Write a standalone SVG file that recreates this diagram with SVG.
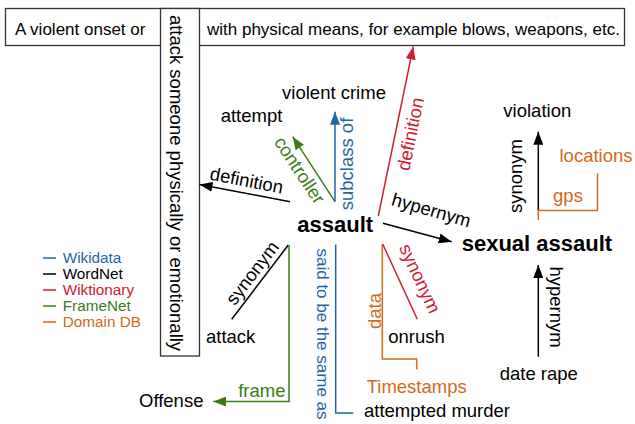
<svg xmlns="http://www.w3.org/2000/svg" width="635" height="424" viewBox="0 0 635 424">
<style>
text{font-family:"Liberation Sans",Arial,Helvetica,sans-serif;fill:#000}
.box{fill:#fff;stroke:#333;stroke-width:1.3}
.n{font-size:18.5px}
.b{font-size:22px;font-weight:bold}
.e{font-size:18.5px}
.t{font-size:17px}
.lg{font-size:15.3px}
.ln{fill:none;stroke-width:1.5}
.k{stroke:#000}.kf{fill:#000}
.bl{stroke:#1f66a8}.blf{fill:#1f66a8}
.rd{stroke:#d0202f}.rdf{fill:#d0202f}
.gr{stroke:#3a7d15}.grf{fill:#3a7d15}
.or{stroke:#d4691a}.orf{fill:#d4691a}
</style>
<defs>
<marker id="ak" markerWidth="13" markerHeight="10" refX="13" refY="5" orient="auto" markerUnits="userSpaceOnUse"><path d="M0,0L13,5L0,10z" fill="#000"/></marker>
<marker id="ab" markerWidth="13" markerHeight="10" refX="13" refY="5" orient="auto" markerUnits="userSpaceOnUse"><path d="M0,0L13,5L0,10z" fill="#1f66a8"/></marker>
<marker id="ar" markerWidth="13" markerHeight="10" refX="13" refY="5" orient="auto" markerUnits="userSpaceOnUse"><path d="M0,0L13,5L0,10z" fill="#d0202f"/></marker>
<marker id="ag" markerWidth="13" markerHeight="10" refX="13" refY="5" orient="auto" markerUnits="userSpaceOnUse"><path d="M0,0L13,5L0,10z" fill="#3a7d15"/></marker>
</defs>
<rect width="635" height="424" fill="#fff"/>

<g id="definition-box">
<rect class="box" x="5.5" y="8.5" width="619" height="37"/>
<text class="t" x="15" y="35">A violent onset or</text>
<text class="t" x="207" y="35">with physical means, for example blows, weapons, etc.</text>
</g>
<g id="node-attack-def">
<rect class="box" x="160.5" y="8.5" width="39" height="347.5"/>
<text class="n" text-anchor="middle" transform="translate(170,183) rotate(90)">attack someone physically or emotionally</text>
</g>

<g id="connectors">
<line class="ln k" x1="290" y1="201.7" x2="199.5" y2="184.5" marker-end="url(#ak)"/>
<line class="ln gr" x1="335" y1="201.7" x2="292.7" y2="136.7" marker-end="url(#ag)"/>
<line class="ln bl" x1="335" y1="201.7" x2="335" y2="111.7" marker-end="url(#ab)"/>
<line class="ln rd" x1="378.3" y1="216" x2="413.3" y2="46.5" marker-end="url(#ar)"/>
<line class="ln k" x1="383" y1="223.3" x2="451.7" y2="241.7" marker-end="url(#ak)"/>
<line class="ln k" x1="538.3" y1="210.5" x2="538.3" y2="131.7" marker-end="url(#ak)"/>
<polyline class="ln or" points="538.3,220 538.3,210.5 597.5,210.5 597.5,173.5"/>
<line class="ln k" x1="231.7" y1="319.3" x2="288.3" y2="245"/>
<polyline class="ln gr" points="289,245 289,401.5 213.3,401.5" marker-end="url(#ag)"/>
<polyline class="ln bl" points="335.7,244.5 335.7,413 353.3,413"/>
<polyline class="ln or" points="382.3,244 382.3,359 416.7,359 416.7,369.3"/>
<line class="ln rd" x1="382.7" y1="244" x2="417.3" y2="319.3"/>
<line class="ln k" x1="538.3" y1="356.7" x2="538.3" y2="265" marker-end="url(#ak)"/>
</g>

<g id="edge-labels">
<text class="e" text-anchor="middle" transform="translate(245.4,186.6) rotate(11)">definition</text>
<text class="e grf" text-anchor="middle" transform="translate(294.4,173.7) rotate(56.5)">controller</text>
<text class="e blf" text-anchor="middle" transform="translate(352.5,164) rotate(-90)">subclass of</text>
<text class="e rdf" text-anchor="middle" transform="translate(416.6,135.3) rotate(-78.4)">definition</text>
<text class="e" text-anchor="middle" transform="translate(429.6,216.2) rotate(16)">hypernym</text>
<text class="e" text-anchor="middle" transform="translate(521.5,176) rotate(-90)">synonym</text>
<text class="e orf" text-anchor="middle" x="568" y="201.7">gps</text>
<text class="e" text-anchor="middle" transform="translate(257.3,276.8) rotate(-52.7)">synonym</text>
<text class="e grf" text-anchor="end" x="285.5" y="396.7">frame</text>
<text class="t blf" text-anchor="middle" transform="translate(316.5,334) rotate(90)">said to be the same as</text>
<text class="e orf" text-anchor="middle" transform="translate(380.5,311) rotate(-90)">data</text>
<text class="e rdf" text-anchor="middle" transform="translate(414.1,281.2) rotate(65.3)">synonym</text>
<text class="e" text-anchor="middle" transform="translate(550,307) rotate(90)">hypernym</text>
</g>

<g id="node-assault"><text class="b" x="297.3" y="231.7">assault</text></g>
<g id="node-sexual-assault"><text class="b" x="461.7" y="250.7">sexual assault</text></g>
<g id="node-violent-crime"><text class="n" text-anchor="middle" x="334" y="98.5">violent crime</text></g>
<g id="node-attempt"><text class="n" text-anchor="middle" x="251.5" y="121.7">attempt</text></g>
<g id="node-violation"><text class="n" text-anchor="middle" x="537.3" y="116.7">violation</text></g>
<g id="node-locations"><text class="n orf" text-anchor="middle" x="596" y="161.7">locations</text></g>
<g id="node-attack"><text class="n" x="206" y="343.3">attack</text></g>
<g id="node-onrush"><text class="n" x="388.3" y="343.3">onrush</text></g>
<g id="node-offense"><text class="n" x="139" y="406.7">Offense</text></g>
<g id="node-timestamps"><text class="n orf" x="366.7" y="393.3">Timestamps</text></g>
<g id="node-date-rape"><text class="n" text-anchor="middle" x="538.8" y="380">date rape</text></g>
<g id="node-attempted-murder"><text class="n" x="364" y="417">attempted murder</text></g>

<g id="legend">
<line class="ln bl" x1="43" y1="258" x2="56" y2="258"/>
<line class="ln k" x1="43" y1="274" x2="56" y2="274"/>
<line class="ln rd" x1="43" y1="290" x2="56" y2="290"/>
<line class="ln gr" x1="43" y1="306" x2="56" y2="306"/>
<line class="ln or" x1="43" y1="322" x2="56" y2="322"/>
<text class="lg blf" x="62.7" y="262.5">Wikidata</text>
<text class="lg" x="62.7" y="278.5">WordNet</text>
<text class="lg rdf" x="62.7" y="294.5">Wiktionary</text>
<text class="lg grf" x="62.7" y="310.5">FrameNet</text>
<text class="lg orf" x="62.7" y="326.5">Domain DB</text>
</g>
</svg>
